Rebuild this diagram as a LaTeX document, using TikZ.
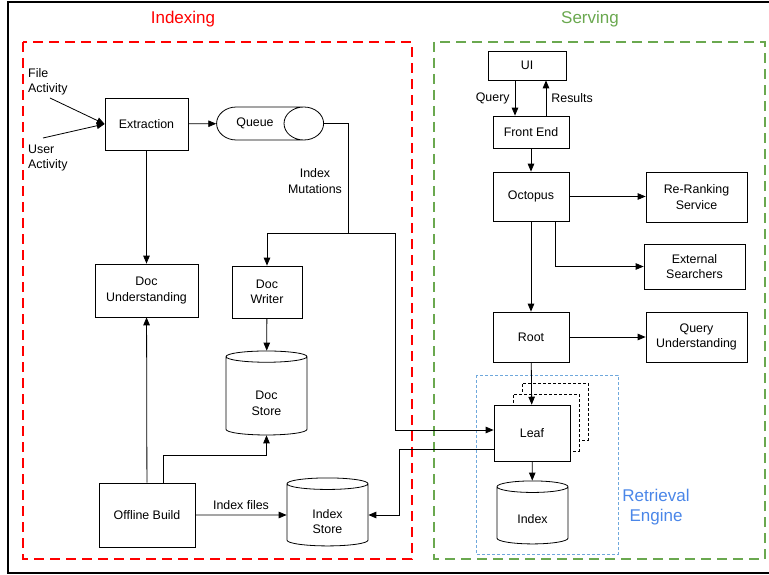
\documentclass[tikz,border=0pt]{standalone}
\usepackage{fontspec}
\setmainfont{Liberation Sans}
\usetikzlibrary{positioning,arrows,shapes,calc}
\definecolor{idxred}{HTML}{FF0000}
\definecolor{srvgreen}{HTML}{6AA84F}
\definecolor{retblue}{HTML}{4A86E8}
\definecolor{retdash}{HTML}{6FA8DC}
\newcommand{\padtop}[1]{\rule{0pt}{#1}}
\tikzset{
  box/.style={draw=black, fill=white, line width=0.8pt, align=center, inner sep=0pt,
    font=\fontsize{12.4}{15.3}\selectfont},
  store/.style={box, cylinder, shape border rotate=90, aspect=0.38},
  copybox/.style={box, dash pattern=on 3pt off 2pt},
  flow/.style={draw=black, line width=0.8pt, ->, >=triangle 45},
  wire/.style={draw=black, line width=0.8pt},
  region/.style={line width=2.2pt, dash pattern=on 10pt off 6pt},
  lbl/.style={font=\fontsize{12.4}{15.3}\selectfont, align=center, inner sep=1pt},
  head/.style={font=\fontsize{17}{20}\selectfont, align=center, inner sep=1pt}
}

\begin{document}
\begin{tikzpicture}[x=1pt, y=-1pt]
  \useasboundingbox (0,0) rectangle (769,575);
  \draw[line width=2pt] (769,2) -- (8,2) -- (8,573) -- (769,573);

  \draw[region, draw=idxred] (23,42) rectangle (412,559);
  \draw[region, draw=srvgreen] (434,42) rectangle (765,559);
  \draw[draw=retdash, line width=0.8pt, dash pattern=on 3pt off 2pt] (476,375) rectangle (618,554);

  \node[head, text=idxred] (idxhead) at (183,19) {Indexing};
  \node[head, text=srvgreen] (srvhead) at (590,19) {Serving};
  \node[head, text=retblue] (rethead) at (656,507) {Retrieval\\Engine};

  \node[lbl, anchor=west, align=left] (fatxt) at (27,82) {File\\Activity};
  \node[lbl, anchor=west, align=left] (uatxt) at (27,158) {User\\Activity};
  \coordinate (fa) at (50,98);
  \coordinate (ua) at (43,138);

  \node[box, minimum width=83, minimum height=52] (ext) at (146.5,124) {Extraction};
  \node[box, cylinder, aspect=3.6, minimum height=84, minimum width=33] (queue) at (260,123.5) {Queue\hspace*{10pt}};
  \node[box, minimum width=103, minimum height=53] (dund) at (146.5,290.5) {Doc\\Understanding};
  \node[box, minimum width=70, minimum height=52] (dwr) at (267,292) {Doc\\Writer};
  \node[store, minimum width=81, minimum height=84] (dstore) at (266.5,396) {\padtop{23pt}Doc\\Store};
  \node[box, minimum width=96, minimum height=64] (offb) at (147,515) {Offline Build};
  \node[store, minimum width=81, minimum height=68] (istore) at (327.5,515) {\padtop{22pt}Index\\Store};
  \node[lbl] (mut) at (315,181) {Index\\Mutations};

  \node[box, minimum width=78, minimum height=29] (ui) at (527,65.5) {UI};
  \node[box, minimum width=76, minimum height=32] (fe) at (531,132) {Front End};
  \node[box, minimum width=76, minimum height=49] (oct) at (531,196.5) {Octopus};
  \node[box, minimum width=101, minimum height=50] (rr) at (696.5,197) {Re-Ranking\\Service};
  \node[box, minimum width=101, minimum height=45] (es) at (694.5,266.5) {External\\Searchers};
  \node[box, minimum width=76, minimum height=50] (root) at (531,337) {Root};
  \node[box, minimum width=101, minimum height=50] (qu) at (696.5,337) {Query\\Understanding};
  \node[copybox, minimum width=66, minimum height=57] (leafc) at (555,411.5) {};
  \node[copybox, minimum width=66, minimum height=57] (leafb) at (546,422.5) {};
  \node[box, minimum width=76, minimum height=56] (leaf) at (532,433) {Leaf};
  \node[store, minimum width=71, minimum height=63] (idx) at (532.5,515.5) {\padtop{17pt}Index};

  \coordinate (qs) at (348,233);
  \coordinate (qb) at (395,430);
  \coordinate (lb) at (399,449);
  \coordinate (ob) at (163,455);

  \draw[flow] (fa) -- (ext.west);
  \draw[flow] (ua) -- (ext.west);
  \draw[flow] (ext) -- (queue);
  \draw[flow] (ext) -- (dund);
  \draw[flow] (offb) -- (dund);
  \draw[flow] (offb.north -| ob) -- (ob) -| (dstore.south);
  \draw[flow] (offb) -- node[lbl, above=4pt] {Index files} (istore);
  \draw[flow] (dwr) -- (dstore);
  \draw[wire] (queue.east) -| (qs);
  \draw[flow] (qs) -| (dwr.north);
  \draw[flow] (qs) -| (qb) -- (leaf.west |- qb);
  \draw[flow] (leaf.west |- lb) -- (lb) |- (istore.east);

  \draw[flow] ([xshift=-12pt]ui.south) -- ([xshift=-12pt]ui.south |- fe.north) node[lbl, midway, left=4pt] {Query};
  \draw[flow] ([xshift=19pt]ui.south |- fe.north) -- ([xshift=19pt]ui.south) node[lbl, midway, right=4pt] {Results};
  \draw[flow] (fe) -- (oct);
  \draw[flow] (oct) -- (rr.west |- oct);
  \draw[flow] ([xshift=24pt]oct.south) |- (es.west);
  \draw[flow] (oct) -- (root);
  \draw[flow] (root) -- (qu);
  \draw[flow] (root) -- (leaf);
  \draw[flow] (leaf) -- (idx);
\end{tikzpicture}
\end{document}
